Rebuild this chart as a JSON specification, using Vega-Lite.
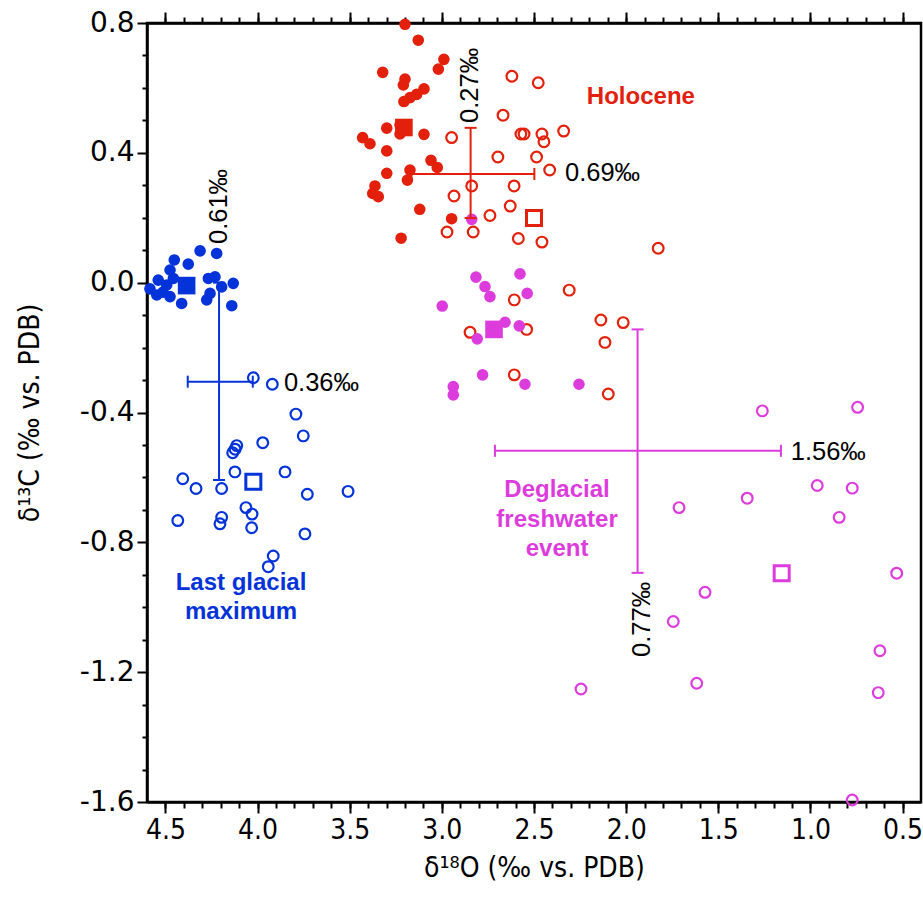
{
  "$schema": "https://vega.github.io/schema/vega-lite/v6.json",
  "width": 774,
  "height": 779,
  "autosize": {"type": "none"},
  "padding": {"left": 147, "top": 23, "right": 2, "bottom": 102},
  "background": "white",
  "config": {
    "view": {"stroke": "black", "strokeWidth": 2.5},
    "axis": {"domainColor": "black", "domainWidth": 2.5, "tickColor": "black", "tickWidth": 2, "labelColor": "black", "titleColor": "black", "grid": false, "labelOverlap": false, "labelFlush": false}
  },
  "datasets": {
    "pts": [
      {"x": 4.312, "y": 0.098, "g": "LGM", "k": "fc"},
      {"x": 4.222, "y": 0.090, "g": "LGM", "k": "fc"},
      {"x": 4.452, "y": 0.070, "g": "LGM", "k": "fc"},
      {"x": 4.376, "y": 0.057, "g": "LGM", "k": "fc"},
      {"x": 4.475, "y": 0.039, "g": "LGM", "k": "fc"},
      {"x": 4.539, "y": 0.008, "g": "LGM", "k": "fc"},
      {"x": 4.584, "y": -0.019, "g": "LGM", "k": "fc"},
      {"x": 4.547, "y": -0.038, "g": "LGM", "k": "fc"},
      {"x": 4.493, "y": -0.007, "g": "LGM", "k": "fc"},
      {"x": 4.475, "y": -0.043, "g": "LGM", "k": "fc"},
      {"x": 4.412, "y": -0.064, "g": "LGM", "k": "fc"},
      {"x": 4.267, "y": 0.013, "g": "LGM", "k": "fc"},
      {"x": 4.231, "y": 0.018, "g": "LGM", "k": "fc"},
      {"x": 4.195, "y": -0.013, "g": "LGM", "k": "fc"},
      {"x": 4.132, "y": -0.002, "g": "LGM", "k": "fc"},
      {"x": 4.258, "y": -0.033, "g": "LGM", "k": "fc"},
      {"x": 4.276, "y": -0.053, "g": "LGM", "k": "fc"},
      {"x": 4.140, "y": -0.071, "g": "LGM", "k": "fc"},
      {"x": 4.457, "y": 0.013, "g": "LGM", "k": "fc"},
      {"x": 4.513, "y": -0.029, "g": "LGM", "k": "fc"},
      {"x": 4.385, "y": -0.009, "g": "LGM", "k": "fs"},
      {"x": 4.023, "y": -0.613, "g": "LGM", "k": "os"},
      {"x": 4.023, "y": -0.293, "g": "LGM", "k": "oc"},
      {"x": 3.920, "y": -0.313, "g": "LGM", "k": "oc"},
      {"x": 3.792, "y": -0.405, "g": "LGM", "k": "oc"},
      {"x": 3.752, "y": -0.472, "g": "LGM", "k": "oc"},
      {"x": 3.972, "y": -0.493, "g": "LGM", "k": "oc"},
      {"x": 4.113, "y": -0.502, "g": "LGM", "k": "oc"},
      {"x": 4.122, "y": -0.513, "g": "LGM", "k": "oc"},
      {"x": 4.135, "y": -0.524, "g": "LGM", "k": "oc"},
      {"x": 3.851, "y": -0.583, "g": "LGM", "k": "oc"},
      {"x": 4.123, "y": -0.583, "g": "LGM", "k": "oc"},
      {"x": 4.406, "y": -0.604, "g": "LGM", "k": "oc"},
      {"x": 4.334, "y": -0.634, "g": "LGM", "k": "oc"},
      {"x": 4.195, "y": -0.634, "g": "LGM", "k": "oc"},
      {"x": 3.730, "y": -0.652, "g": "LGM", "k": "oc"},
      {"x": 3.509, "y": -0.643, "g": "LGM", "k": "oc"},
      {"x": 4.063, "y": -0.693, "g": "LGM", "k": "oc"},
      {"x": 4.030, "y": -0.713, "g": "LGM", "k": "oc"},
      {"x": 4.195, "y": -0.723, "g": "LGM", "k": "oc"},
      {"x": 4.204, "y": -0.743, "g": "LGM", "k": "oc"},
      {"x": 4.433, "y": -0.733, "g": "LGM", "k": "oc"},
      {"x": 4.032, "y": -0.755, "g": "LGM", "k": "oc"},
      {"x": 3.743, "y": -0.774, "g": "LGM", "k": "oc"},
      {"x": 3.915, "y": -0.842, "g": "LGM", "k": "oc"},
      {"x": 3.942, "y": -0.875, "g": "LGM", "k": "oc"},
      {"x": 3.200, "y": 0.796, "g": "HOL", "k": "fc"},
      {"x": 3.128, "y": 0.747, "g": "HOL", "k": "fc"},
      {"x": 2.989, "y": 0.688, "g": "HOL", "k": "fc"},
      {"x": 3.019, "y": 0.658, "g": "HOL", "k": "fc"},
      {"x": 3.321, "y": 0.648, "g": "HOL", "k": "fc"},
      {"x": 3.200, "y": 0.627, "g": "HOL", "k": "fc"},
      {"x": 3.209, "y": 0.609, "g": "HOL", "k": "fc"},
      {"x": 3.097, "y": 0.597, "g": "HOL", "k": "fc"},
      {"x": 3.137, "y": 0.580, "g": "HOL", "k": "fc"},
      {"x": 3.173, "y": 0.570, "g": "HOL", "k": "fc"},
      {"x": 3.206, "y": 0.558, "g": "HOL", "k": "fc"},
      {"x": 3.227, "y": 0.486, "g": "HOL", "k": "fc"},
      {"x": 3.299, "y": 0.476, "g": "HOL", "k": "fc"},
      {"x": 3.227, "y": 0.458, "g": "HOL", "k": "fc"},
      {"x": 3.097, "y": 0.457, "g": "HOL", "k": "fc"},
      {"x": 3.430, "y": 0.447, "g": "HOL", "k": "fc"},
      {"x": 3.390, "y": 0.428, "g": "HOL", "k": "fc"},
      {"x": 3.299, "y": 0.406, "g": "HOL", "k": "fc"},
      {"x": 3.059, "y": 0.377, "g": "HOL", "k": "fc"},
      {"x": 3.025, "y": 0.355, "g": "HOL", "k": "fc"},
      {"x": 3.299, "y": 0.337, "g": "HOL", "k": "fc"},
      {"x": 3.173, "y": 0.347, "g": "HOL", "k": "fc"},
      {"x": 3.187, "y": 0.316, "g": "HOL", "k": "fc"},
      {"x": 3.363, "y": 0.298, "g": "HOL", "k": "fc"},
      {"x": 3.375, "y": 0.275, "g": "HOL", "k": "fc"},
      {"x": 3.345, "y": 0.265, "g": "HOL", "k": "fc"},
      {"x": 3.120, "y": 0.226, "g": "HOL", "k": "fc"},
      {"x": 2.947, "y": 0.197, "g": "HOL", "k": "fc"},
      {"x": 3.221, "y": 0.137, "g": "HOL", "k": "fc"},
      {"x": 3.206, "y": 0.478, "g": "HOL", "k": "fs"},
      {"x": 2.500, "y": 0.199, "g": "HOL", "k": "os"},
      {"x": 2.947, "y": 0.447, "g": "HOL", "k": "oc"},
      {"x": 2.620, "y": 0.636, "g": "HOL", "k": "oc"},
      {"x": 2.477, "y": 0.616, "g": "HOL", "k": "oc"},
      {"x": 2.668, "y": 0.516, "g": "HOL", "k": "oc"},
      {"x": 2.571, "y": 0.458, "g": "HOL", "k": "oc"},
      {"x": 2.554, "y": 0.458, "g": "HOL", "k": "oc"},
      {"x": 2.457, "y": 0.458, "g": "HOL", "k": "oc"},
      {"x": 2.446, "y": 0.434, "g": "HOL", "k": "oc"},
      {"x": 2.339, "y": 0.467, "g": "HOL", "k": "oc"},
      {"x": 2.696, "y": 0.387, "g": "HOL", "k": "oc"},
      {"x": 2.486, "y": 0.387, "g": "HOL", "k": "oc"},
      {"x": 2.415, "y": 0.347, "g": "HOL", "k": "oc"},
      {"x": 2.838, "y": 0.298, "g": "HOL", "k": "oc"},
      {"x": 2.608, "y": 0.298, "g": "HOL", "k": "oc"},
      {"x": 2.934, "y": 0.267, "g": "HOL", "k": "oc"},
      {"x": 2.629, "y": 0.236, "g": "HOL", "k": "oc"},
      {"x": 2.739, "y": 0.207, "g": "HOL", "k": "oc"},
      {"x": 2.972, "y": 0.156, "g": "HOL", "k": "oc"},
      {"x": 2.830, "y": 0.156, "g": "HOL", "k": "oc"},
      {"x": 2.585, "y": 0.136, "g": "HOL", "k": "oc"},
      {"x": 2.457, "y": 0.125, "g": "HOL", "k": "oc"},
      {"x": 2.309, "y": -0.023, "g": "HOL", "k": "oc"},
      {"x": 2.607, "y": -0.053, "g": "HOL", "k": "oc"},
      {"x": 2.137, "y": -0.115, "g": "HOL", "k": "oc"},
      {"x": 2.016, "y": -0.123, "g": "HOL", "k": "oc"},
      {"x": 2.847, "y": -0.153, "g": "HOL", "k": "oc"},
      {"x": 2.540, "y": -0.144, "g": "HOL", "k": "oc"},
      {"x": 2.115, "y": -0.184, "g": "HOL", "k": "oc"},
      {"x": 2.607, "y": -0.284, "g": "HOL", "k": "oc"},
      {"x": 2.097, "y": -0.343, "g": "HOL", "k": "oc"},
      {"x": 1.826, "y": 0.106, "g": "HOL", "k": "oc"},
      {"x": 2.815, "y": 0.017, "g": "DEG", "k": "fc"},
      {"x": 2.576, "y": 0.027, "g": "DEG", "k": "fc"},
      {"x": 2.766, "y": -0.012, "g": "DEG", "k": "fc"},
      {"x": 2.739, "y": -0.043, "g": "DEG", "k": "fc"},
      {"x": 2.537, "y": -0.033, "g": "DEG", "k": "fc"},
      {"x": 2.998, "y": -0.072, "g": "DEG", "k": "fc"},
      {"x": 2.657, "y": -0.122, "g": "DEG", "k": "fc"},
      {"x": 2.580, "y": -0.133, "g": "DEG", "k": "fc"},
      {"x": 2.808, "y": -0.173, "g": "DEG", "k": "fc"},
      {"x": 2.779, "y": -0.284, "g": "DEG", "k": "fc"},
      {"x": 2.938, "y": -0.320, "g": "DEG", "k": "fc"},
      {"x": 2.938, "y": -0.346, "g": "DEG", "k": "fc"},
      {"x": 2.549, "y": -0.313, "g": "DEG", "k": "fc"},
      {"x": 2.256, "y": -0.313, "g": "DEG", "k": "fc"},
      {"x": 2.838, "y": 0.195, "g": "DEG", "k": "fc"},
      {"x": 2.717, "y": -0.144, "g": "DEG", "k": "fs"},
      {"x": 1.156, "y": -0.895, "g": "DEG", "k": "os"},
      {"x": 1.261, "y": -0.395, "g": "DEG", "k": "oc"},
      {"x": 0.744, "y": -0.384, "g": "DEG", "k": "oc"},
      {"x": 1.713, "y": -0.693, "g": "DEG", "k": "oc"},
      {"x": 1.343, "y": -0.664, "g": "DEG", "k": "oc"},
      {"x": 0.963, "y": -0.625, "g": "DEG", "k": "oc"},
      {"x": 0.773, "y": -0.633, "g": "DEG", "k": "oc"},
      {"x": 0.844, "y": -0.723, "g": "DEG", "k": "oc"},
      {"x": 0.532, "y": -0.895, "g": "DEG", "k": "oc"},
      {"x": 1.572, "y": -0.954, "g": "DEG", "k": "oc"},
      {"x": 1.744, "y": -1.044, "g": "DEG", "k": "oc"},
      {"x": 0.623, "y": -1.134, "g": "DEG", "k": "oc"},
      {"x": 1.617, "y": -1.234, "g": "DEG", "k": "oc"},
      {"x": 0.632, "y": -1.263, "g": "DEG", "k": "oc"},
      {"x": 0.773, "y": -1.594, "g": "DEG", "k": "oc"},
      {"x": 2.245, "y": -1.252, "g": "DEG", "k": "oc"}
    ],
    "bars": [
      {"x": 4.209, "x2": 4.209, "y": 0.0, "y2": -0.608, "g": "LGM"},
      {"x": 4.379, "x2": 4.026, "y": -0.305, "y2": -0.305, "g": "LGM"},
      {"x": 2.844, "x2": 2.844, "y": 0.477, "y2": 0.199, "g": "HOL"},
      {"x": 3.165, "x2": 2.498, "y": 0.335, "y2": 0.335, "g": "HOL"},
      {"x": 1.938, "x2": 1.938, "y": -0.144, "y2": -0.894, "g": "DEG"},
      {"x": 2.712, "x2": 1.160, "y": -0.518, "y2": -0.518, "g": "DEG"}
    ],
    "caps": [
      {"x": 4.209, "y": 0.0, "g": "LGM", "o": "h"},
      {"x": 4.209, "y": -0.608, "g": "LGM", "o": "h"},
      {"x": 2.844, "y": 0.477, "g": "HOL", "o": "h"},
      {"x": 2.844, "y": 0.199, "g": "HOL", "o": "h"},
      {"x": 1.938, "y": -0.144, "g": "DEG", "o": "h"},
      {"x": 1.938, "y": -0.894, "g": "DEG", "o": "h"},
      {"x": 4.379, "y": -0.305, "g": "LGM", "o": "v"},
      {"x": 4.026, "y": -0.305, "g": "LGM", "o": "v"},
      {"x": 3.165, "y": 0.335, "g": "HOL", "o": "v"},
      {"x": 2.498, "y": 0.335, "g": "HOL", "o": "v"},
      {"x": 2.712, "y": -0.518, "g": "DEG", "o": "v"},
      {"x": 1.160, "y": -0.518, "g": "DEG", "o": "v"}
    ],
    "vals": [
      {"x": 4.208, "y": 0.119, "t": "0.61‰", "r": 1},
      {"x": 3.857, "y": -0.308, "t": "0.36‰", "r": 0},
      {"x": 2.847, "y": 0.492, "t": "0.27‰", "r": 1},
      {"x": 2.332, "y": 0.338, "t": "0.69‰", "r": 0},
      {"x": 1.107, "y": -0.522, "t": "1.56‰", "r": 0},
      {"x": 1.916, "y": -1.153, "t": "0.77‰", "r": 1}
    ],
    "names": [
      {"x": 1.92, "y": 0.572, "t": "Holocene", "g": "HOL"},
      {"x": 4.09, "y": -0.925, "t": "Last glacial\nmaximum", "g": "LGM"},
      {"x": 2.375, "y": -0.639, "t": "Deglacial\nfreshwater\nevent", "g": "DEG"}
    ]
  },
  "resolve": {"axis": {"x": "independent", "y": "independent"}},
  "layer": [
    {
      "data": {"name": "pts"},
      "transform": [{"filter": "datum.k === 'oc'"}],
      "mark": {"type": "point", "shape": "circle", "filled": false, "strokeWidth": 2.2, "size": 115, "opacity": 1},
      "encoding": {
        "x": {"field": "x", "type": "quantitative",
          "scale": {"domain": [4.6, 0.4], "nice": false, "zero": false},
          "axis": {"orient": "bottom", "title": "δ¹⁸O (‰ vs. PDB)",
            "values": [4.5, 4.0, 3.5, 3.0, 2.5, 2.0, 1.5, 1.0, 0.5],
            "format": ".1f", "tickSize": 11,
            "labelFont": "DejaVu Sans Condensed, Liberation Sans", "labelFontSize": 28, "labelPadding": 3,
            "titleFont": "DejaVu Sans Condensed, Liberation Sans", "titleFontSize": 28, "titleFontWeight": "normal", "titlePadding": 10}},
        "y": {"field": "y", "type": "quantitative",
          "scale": {"domain": [-1.6, 0.8], "nice": false, "zero": false},
          "axis": {"orient": "left", "title": "δ¹³C (‰ vs. PDB)",
            "values": [-1.6, -1.2, -0.8, -0.4, 0.0, 0.4, 0.8],
            "labelExpr": "(datum.value < -0.0001 ? '-' : '') + format(abs(datum.value), '.1f')",
            "tickSize": 10,
            "labelFont": "DejaVu Sans", "labelFontSize": 28, "labelPadding": 3,
            "titleFont": "DejaVu Sans Condensed, Liberation Sans", "titleFontSize": 28, "titleFontWeight": "normal", "titlePadding": 35}},
        "color": {"field": "g", "type": "nominal", "legend": null,
          "scale": {"domain": ["HOL", "LGM", "DEG"], "range": ["#e3200b", "#0433d9", "#dd3cdd"]}}
      }
    },
    {
      "data": {"name": "pts"},
      "transform": [{"filter": "datum.k === 'fc'"}],
      "mark": {"type": "circle", "size": 135, "opacity": 1},
      "encoding": {
        "x": {"field": "x", "type": "quantitative",
          "axis": {"orient": "bottom", "title": null, "labels": false, "domain": false, "tickSize": 6,
            "values": [4.5,4.4,4.3,4.2,4.1,4.0,3.9,3.8,3.7,3.6,3.5,3.4,3.3,3.2,3.1,3.0,2.9,2.8,2.7,2.6,2.5,2.4,2.3,2.2,2.1,2.0,1.9,1.8,1.7,1.6,1.5,1.4,1.3,1.2,1.1,1.0,0.9,0.8,0.7,0.6,0.5]}},
        "y": {"field": "y", "type": "quantitative",
          "axis": {"orient": "left", "title": null, "labels": false, "domain": false, "tickSize": 5,
            "values": [-1.5,-1.4,-1.3,-1.1,-1.0,-0.9,-0.7,-0.6,-0.5,-0.3,-0.2,-0.1,0.1,0.2,0.3,0.5,0.6,0.7]}},
        "color": {"field": "g", "type": "nominal", "legend": null}
      }
    },
    {
      "data": {"name": "pts"},
      "transform": [{"filter": "datum.k === 'fs'"}],
      "mark": {"type": "square", "size": 310, "opacity": 1},
      "encoding": {
        "x": {"field": "x", "type": "quantitative", "axis": null},
        "y": {"field": "y", "type": "quantitative", "axis": null},
        "color": {"field": "g", "type": "nominal", "legend": null}
      }
    },
    {
      "data": {"name": "pts"},
      "transform": [{"filter": "datum.k === 'os'"}],
      "mark": {"type": "point", "shape": "square", "filled": false, "strokeWidth": 3, "size": 225, "opacity": 1},
      "encoding": {
        "x": {"field": "x", "type": "quantitative", "axis": null},
        "y": {"field": "y", "type": "quantitative", "axis": null},
        "color": {"field": "g", "type": "nominal", "legend": null}
      }
    },
    {
      "data": {"name": "bars"},
      "mark": {"type": "rule", "strokeWidth": 2},
      "encoding": {
        "x": {"field": "x", "type": "quantitative",
          "axis": {"orient": "top", "title": null, "labels": false, "domain": true, "tickSize": 11,
            "values": [4.5, 4.0, 3.5, 3.0, 2.5, 2.0, 1.5, 1.0, 0.5]}},
        "x2": {"field": "x2"},
        "y": {"field": "y", "type": "quantitative", "axis": null},
        "y2": {"field": "y2"},
        "color": {"field": "g", "type": "nominal", "legend": null}
      }
    },
    {
      "data": {"name": "caps"},
      "transform": [{"filter": "datum.o === 'h'"}],
      "mark": {"type": "tick", "orient": "horizontal", "size": 12, "thickness": 2, "opacity": 1},
      "encoding": {
        "x": {"field": "x", "type": "quantitative",
          "axis": {"orient": "top", "title": null, "labels": false, "domain": false, "tickSize": 6,
            "values": [4.5,4.4,4.3,4.2,4.1,4.0,3.9,3.8,3.7,3.6,3.5,3.4,3.3,3.2,3.1,3.0,2.9,2.8,2.7,2.6,2.5,2.4,2.3,2.2,2.1,2.0,1.9,1.8,1.7,1.6,1.5,1.4,1.3,1.2,1.1,1.0,0.9,0.8,0.7,0.6,0.5]}},
        "y": {"field": "y", "type": "quantitative", "axis": null},
        "color": {"field": "g", "type": "nominal", "legend": null}
      }
    },
    {
      "data": {"name": "caps"},
      "transform": [{"filter": "datum.o === 'v'"}],
      "mark": {"type": "tick", "orient": "vertical", "size": 12, "thickness": 2, "opacity": 1},
      "encoding": {
        "x": {"field": "x", "type": "quantitative", "axis": null},
        "y": {"field": "y", "type": "quantitative", "axis": null},
        "color": {"field": "g", "type": "nominal", "legend": null}
      }
    },
    {
      "data": {"name": "vals"},
      "transform": [{"filter": "datum.r === 0"}],
      "mark": {"type": "text", "align": "left", "baseline": "middle", "font": "Liberation Sans", "fontSize": 25.5, "color": "black"},
      "encoding": {
        "x": {"field": "x", "type": "quantitative", "axis": null},
        "y": {"field": "y", "type": "quantitative", "axis": null},
        "text": {"field": "t"}
      }
    },
    {
      "data": {"name": "vals"},
      "transform": [{"filter": "datum.r === 1"}],
      "mark": {"type": "text", "align": "left", "baseline": "middle", "angle": 270, "font": "Liberation Sans", "fontSize": 25.5, "color": "black"},
      "encoding": {
        "x": {"field": "x", "type": "quantitative", "axis": null},
        "y": {"field": "y", "type": "quantitative", "axis": null},
        "text": {"field": "t"}
      }
    },
    {
      "data": {"name": "names"},
      "mark": {"type": "text", "align": "center", "baseline": "middle", "font": "Liberation Sans", "fontSize": 24, "fontWeight": "bold", "lineBreak": "\n", "lineHeight": 29.5},
      "encoding": {
        "x": {"field": "x", "type": "quantitative", "axis": null},
        "y": {"field": "y", "type": "quantitative", "axis": null},
        "text": {"field": "t"},
        "color": {"field": "g", "type": "nominal", "legend": null}
      }
    }
  ]
}
